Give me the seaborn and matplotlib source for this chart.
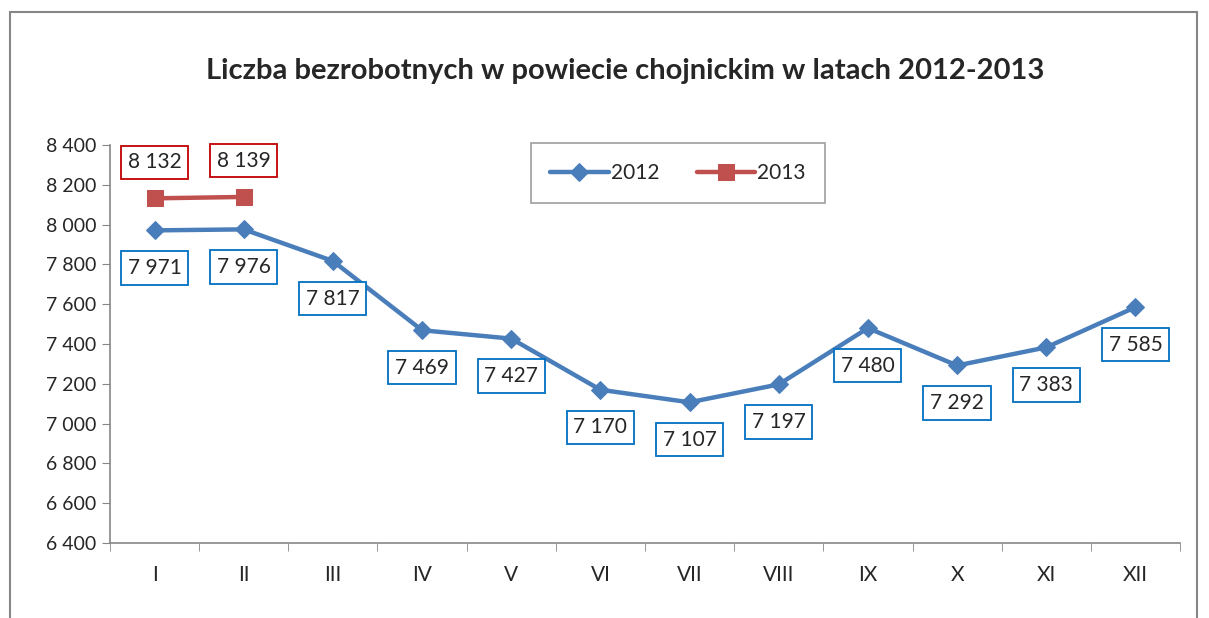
import pandas as pd
import numpy as np
import matplotlib
matplotlib.use("Agg")
import matplotlib.pyplot as plt
from matplotlib.patches import Rectangle
from matplotlib.ticker import FuncFormatter, MultipleLocator, FixedLocator
import seaborn as sns

# data
months = ["I", "II", "III", "IV", "V", "VI", "VII", "VIII", "IX", "X", "XI", "XII"]
values_2012 = [7971, 7976, 7817, 7469, 7427, 7170, 7107, 7197, 7480, 7292, 7383, 7585]
values_2013 = [8132, 8139]
title = "Liczba bezrobotnych w powiecie chojnickim w latach 2012-2013"

df = pd.concat([
    pd.DataFrame({"pos": range(len(values_2012)), "value": values_2012, "year": "2012"}),
    pd.DataFrame({"pos": range(len(values_2013)), "value": values_2013, "year": "2013"}),
])

sns.set_style("white")
plt.rcParams["font.family"] = ["Lato", "DejaVu Sans"]

blue = "#4A7EBB"
red = "#C0504D"
axis_grey = "#868686"

fig = plt.figure(figsize=(12.09, 6.18), dpi=100)
ax = fig.add_axes((110 / 1209, 1 - 543 / 618, 1070 / 1209, 398 / 618))

sns.lineplot(data=df[df.year == "2012"], x="pos", y="value", ax=ax, color=blue,
             lw=3.2, marker="D", markersize=9, markeredgecolor=blue, label="2012")
sns.lineplot(data=df[df.year == "2013"], x="pos", y="value", ax=ax, color=red,
             lw=3.2, marker="s", markersize=11, markeredgecolor=red, label="2013")

# data labels
for i, v in enumerate(values_2012):
    ax.annotate(f"{v:,}".replace(",", " "), (i, v), xytext=(0, -27), textcoords="offset points",
                ha="center", va="center", fontsize=15,
                bbox=dict(boxstyle="square,pad=0.32", fc="white", ec="#0070C0", lw=1.3))
for i, v in enumerate(values_2013):
    ax.annotate(f"{v:,}".replace(",", " "), (i, v), xytext=(0, 26), textcoords="offset points",
                ha="center", va="center", fontsize=15,
                bbox=dict(boxstyle="square,pad=0.32", fc="white", ec="#C00000", lw=1.3))

ax.set_xlim(-0.5, len(months) - 0.5)
ax.set_ylim(6400, 8400)
ax.yaxis.set_major_locator(MultipleLocator(200))
ax.yaxis.set_major_formatter(FuncFormatter(lambda v, p: f"{int(v):,}".replace(",", " ")))
ax.xaxis.set_major_locator(FixedLocator(range(len(months))))
ax.set_xticklabels(months)
ax.xaxis.set_minor_locator(FixedLocator(np.arange(-0.5, len(months), 1.0)))
ax.tick_params(axis="x", which="major", length=0, pad=16, labelsize=15)
ax.tick_params(axis="x", which="minor", length=6, color=axis_grey, direction="out", bottom=True)
ax.tick_params(axis="y", length=6, color=axis_grey, direction="out", left=True, labelsize=14, pad=4)
ax.set_xlabel("")
ax.set_ylabel("")
for side in ["top", "right"]:
    ax.spines[side].set_visible(False)
for side in ["left", "bottom"]:
    ax.spines[side].set_color(axis_grey)
    ax.spines[side].set_linewidth(1.2)

leg = ax.legend(loc="upper center", bbox_to_anchor=((678 - 110) / 1070, 1.005),
                borderaxespad=0, ncol=2, frameon=True, fancybox=False, fontsize=15,
                borderpad=0.95, handlelength=2.8, handletextpad=0.1, columnspacing=1.8)
leg.get_frame().set_edgecolor(axis_grey)
leg.get_frame().set_linewidth(1.2)

fig.text(625 / 1209, 1 - 71 / 618, title, ha="center", va="center",
         fontsize=21, fontweight="bold")

# outer chart border
fig.patches.append(Rectangle((10 / 1209, -0.1), 1187 / 1209, 1.1 - 12 / 618,
                             transform=fig.transFigure, fill=False, ec=axis_grey, lw=1.5))

fig.savefig("out.png", dpi=100)
